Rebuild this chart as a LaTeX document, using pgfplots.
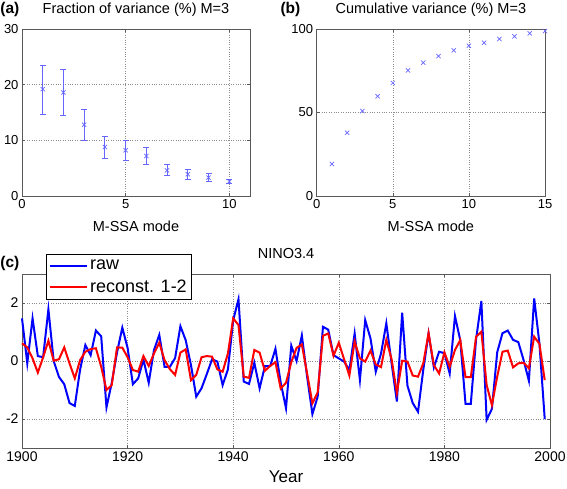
\documentclass[border=0pt]{standalone}
\usepackage{fontspec}
\setmainfont{Liberation Sans}
\usepackage{pgfplots}
\usepackage{pgfplotstable}
\pgfplotsset{compat=1.18}
\definecolor{mblue}{rgb}{0.40,0.40,1.00}
\definecolor{gridc}{rgb}{0.55,0.55,0.55}
\definecolor{axc}{rgb}{0.35,0.35,0.35}

\pgfplotstableread{
x y ep em
1 19.2 4.2 4.5
2 18.6 4.2 4.1
3 12.8 2.8 2.9
4 8.8 1.8 2.1
5 8.2 1.7 1.9
6 7.2 1.6 1.6
7 4.6 1.1 1.0
8 3.9 0.8 0.9
9 3.3 0.7 0.7
10 2.6 0.4 0.4
}\fracvar

\pgfplotstableread{
x y
1 19.2
2 37.9
3 50.9
4 59.7
5 67.7
6 75.2
7 79.8
8 83.8
9 87.2
10 90.0
11 91.8
12 94.0
13 95.6
14 97.4
15 98.8
}\cumvar

\pgfplotstableread{
yr raw rec
1900 1.47 0.61
1901 -0.08 0.47
1902 1.47 0.09
1903 0.17 -0.40
1904 0.13 0.13
1905 1.78 0.70
1906 0.00 0.01
1907 -0.55 0.06
1908 -0.80 0.47
1909 -1.45 -0.08
1910 -1.55 -0.60
1911 -0.30 0.03
1912 0.55 0.32
1913 0.20 0.41
1914 1.05 0.44
1915 0.85 -0.20
1916 -1.60 -1.00
1917 -0.75 -0.83
1918 0.30 0.47
1919 1.15 0.46
1920 0.45 0.13
1921 -0.80 -0.31
1922 -0.60 -0.37
1923 0.05 0.17
1924 -0.75 -0.17
1925 0.38 0.26
1926 0.90 0.63
1927 -0.20 0.03
1928 -0.20 -0.28
1929 0.10 -0.48
1930 1.20 0.29
1931 0.72 0.40
1932 -0.14 -0.66
1933 -1.23 -0.48
1934 -0.94 0.13
1935 -0.45 0.17
1936 0.06 0.15
1937 -0.02 -0.29
1938 -0.83 -0.37
1939 -0.29 0.26
1940 1.41 1.47
1941 2.13 1.24
1942 -0.71 -0.54
1943 -0.79 -0.58
1944 -0.06 0.38
1945 -0.94 0.29
1946 -0.18 -0.34
1947 -0.18 -0.17
1948 0.42 -0.04
1949 -0.75 -0.95
1950 -1.63 -0.75
1951 0.53 -0.04
1952 0.00 0.45
1953 0.88 0.57
1954 -0.54 -0.43
1955 -1.83 -1.46
1956 -1.23 -1.08
1957 1.18 0.87
1958 1.08 0.95
1959 0.20 0.18
1960 0.09 0.63
1961 -0.02 0.06
1962 -0.31 -0.50
1963 0.95 0.67
1964 -0.66 0.09
1965 1.41 -0.02
1966 0.78 0.36
1967 -0.37 -0.12
1968 0.26 -0.21
1969 1.30 0.73
1970 -0.08 0.06
1971 -1.40 -1.10
1972 1.67 0.01
1973 -0.85 -0.02
1974 -1.45 -0.50
1975 -1.75 -0.54
1976 -0.30 -0.08
1977 0.95 0.96
1978 -0.22 -0.14
1979 0.32 -0.43
1980 0.27 0.30
1981 -0.43 -0.20
1982 1.55 0.38
1983 0.72 0.72
1984 -1.48 -0.56
1985 -1.48 -0.56
1986 0.75 0.84
1987 2.07 1.01
1988 -2.03 -0.83
1989 -1.65 -1.52
1990 0.30 -0.54
1991 0.96 0.32
1992 1.05 0.36
1993 0.73 -0.22
1994 0.65 -0.08
1995 0.03 -0.06
1996 -0.68 -0.25
1997 2.16 0.84
1998 0.60 0.59
1999 -2.00 -0.66
}\nino

\pgfplotsset{
  mstyle/.style={
    scale only axis,
    anchor=south west,
    axis line style={axc, line width=0.6pt},
    grid=major,
    major grid style={gridc, dotted, line width=0.5pt},
    tick style={axc, line width=0.5pt},
    major tick length=3pt,
    tick align=inside,
    /pgf/number format/assume math mode=true,
    /pgf/number format/set thousands separator={},
    clip=false,
  }
}

\begin{document}
\begin{tikzpicture}[x=1pt,y=1pt]
\useasboundingbox (0,0) rectangle (567,488);

% (a)
\begin{axis}[mstyle,
  at={(22pt,292pt)}, width=228pt, height=167pt,
  xmin=0, xmax=11, ymin=0, ymax=30,
  xtick={0,5,10}, ytick={0,10,20,30},
  ticklabel style={font=\fontsize{13}{15}\selectfont},
  xlabel={M-SSA mode},
  xlabel style={font=\fontsize{14.5}{16}\selectfont, at={(axis description cs:0.5,-0.18)}, anchor=center},
]
\addplot[only marks, mblue, mark=x, mark size=3pt, line width=0.7pt,
  error bars/.cd, y dir=both, y explicit,
  error bar style={mblue, line width=1pt},
  error mark options={rotate=90, mark size=3pt, mblue, line width=1pt}]
  table[x=x, y=y, y error plus=ep, y error minus=em] {\fracvar};
\node[font=\fontsize{14.5}{16}\selectfont, anchor=center] at (axis description cs:0.5,1.114) {Fraction of variance (\%) M=3};
\node[font=\bfseries\fontsize{15.5}{17}\selectfont, anchor=center] at (axis description cs:-0.053,1.114) {(a)};
\end{axis}

% (b)
\begin{axis}[mstyle,
  at={(316.7pt,292pt)}, width=228.3pt, height=167pt,
  xmin=0, xmax=15, ymin=0, ymax=100,
  xtick={0,5,10,15}, ytick={0,50,100},
  ticklabel style={font=\fontsize{13}{15}\selectfont},
  xlabel={M-SSA mode},
  xlabel style={font=\fontsize{14.5}{16}\selectfont, at={(axis description cs:0.5,-0.18)}, anchor=center},
]
\addplot[only marks, mblue, mark=x, mark size=3pt, line width=0.7pt]
  table[x=x, y=y] {\cumvar};
\node[font=\fontsize{14.5}{16}\selectfont, anchor=center] at (axis description cs:0.5,1.114) {Cumulative variance (\%) M=3};
\node[font=\bfseries\fontsize{15.5}{17}\selectfont, anchor=center] at (axis description cs:-0.115,1.114) {(b)};
\end{axis}

% (c)
\begin{axis}[mstyle,
  at={(22pt,40pt)}, width=528pt, height=174pt,
  xmin=1900, xmax=2000, ymin=-3, ymax=3,
  xtick={1900,1920,...,2000}, ytick={-2,0,2},
  ticklabel style={font=\fontsize{14}{16}\selectfont},
  xlabel={Year},
  xlabel style={font=\fontsize{17}{19}\selectfont, at={(axis description cs:0.5,-0.163)}, anchor=center},
  legend style={at={(0.045,1.115)}, anchor=north west, draw=black, line width=0.6pt,
    font=\fontsize{18}{20}\selectfont, fill=white, inner xsep=3pt, inner ysep=4pt,
    row sep=4pt},
  legend cell align=left,
  legend image code/.code={\draw[#1] (0pt,0pt) -- (37pt,0pt);},
]
\addplot[blue, line width=2pt] table[x=yr, y=raw] {\nino};
\addlegendentry{raw}
\addplot[red, line width=2pt] table[x=yr, y=rec] {\nino};
\addlegendentry{reconst. 1-2}
\node[font=\fontsize{14.5}{16}\selectfont, anchor=center] at (axis description cs:0.5,1.12) {NINO3.4};
\node[font=\bfseries\fontsize{15.5}{17}\selectfont, anchor=center] at (axis description cs:-0.023,1.063) {(c)};
\end{axis}
\end{tikzpicture}
\end{document}
